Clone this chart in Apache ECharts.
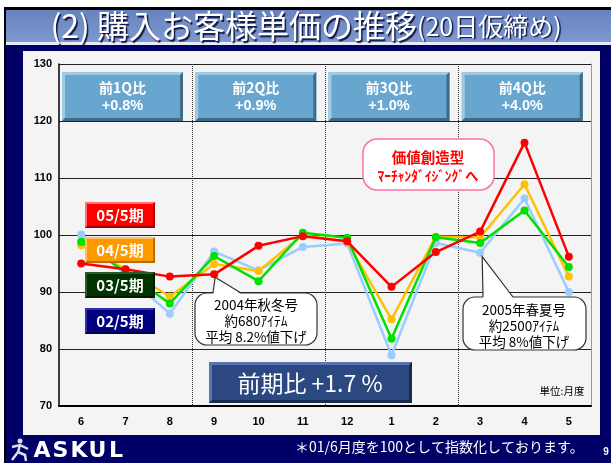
<!DOCTYPE html>
<html><head><meta charset="utf-8">
<script src="https://cdn.jsdelivr.net/npm/echarts@6/dist/echarts.min.js"></script>
<style>html,body{margin:0;padding:0;background:#fff;}#c{width:611px;height:463px;}</style>
</head><body><div id="c"></div>
<script>
// ---- data ----
const months = ['6','7','8','9','10','11','12','1','2','3','4','5'];
const s05 = [95.0, 94.0, 92.7, 93.1, 98.1, 99.8, 98.9, 90.9, 97.0, 100.6, 116.2, 96.2];
const s04 = [98.2, 94.0, 89.2, 94.9, 93.7, 100.0, 98.8, 85.2, 99.7, 99.6, 108.9, 92.7];
const s03 = [98.8, 93.5, 88.0, 96.3, 91.9, 100.4, 99.5, 81.8, 99.6, 98.6, 104.3, 94.4];
const s02 = [100.1, 93.0, 86.2, 97.1, 93.8, 97.9, 98.5, 78.9, 98.6, 96.9, 106.4, 90.0];
const seriesNames = ['05/5期','04/5期','03/5期','02/5期'];
const quarterLabels = ['前1Q比','前2Q比','前3Q比','前4Q比'];
const quarterValues = ['+0.8%','+0.9%','+1.0%','+4.0%'];
const yTicks = {min:70, max:130, interval:10};

const chart = echarts.init(document.getElementById('c'));
const JP = '"Noto Sans CJK JP", "Noto Sans", sans-serif';
const AR = '"Liberation Sans", Arial, sans-serif';

function lineSeries(name, data, color, z){
  return {name, type:'line', data, z, symbol:'circle', symbolSize:8, showSymbol:true,
    lineStyle:{color, width:2.5}, itemStyle:{color}, emphasis:{disabled:true}};
}

const option = {
  animation:false,
  grid:{left:59, right:20, top:64, bottom:57},
  xAxis:{type:'category', data:months, boundaryGap:true,
    axisLine:{lineStyle:{color:'#000', width:2}},
    axisTick:{inside:true, length:4, lineStyle:{color:'#000'}},
    axisLabel:{margin:10, color:'#000', fontWeight:'bold', fontSize:11, fontFamily:AR},
    splitLine:{show:true, interval:function(i){return i===3||i===6||i===9;}, lineStyle:{type:'dotted', color:'#333', width:1}}
  },
  yAxis:[{type:'value', min:yTicks.min, max:yTicks.max, interval:yTicks.interval,
    axisLine:{show:true, lineStyle:{color:'#000', width:1.5}},
    axisTick:{show:false},
    axisLabel:{margin:7, color:'#000', fontWeight:'bold', fontSize:11, fontFamily:AR},
    splitLine:{lineStyle:{color:'#222', width:1}}
  },{type:'value', position:'right', min:yTicks.min, max:yTicks.max, interval:yTicks.interval,
    axisLine:{show:true, lineStyle:{color:'#999', width:1}}, axisTick:{show:false}, axisLabel:{show:false}, splitLine:{show:false}}],
  series:[
    lineSeries(seriesNames[3], s02, '#99ccff', 3),
    lineSeries(seriesNames[1], s04, '#ffc000', 4),
    lineSeries(seriesNames[2], s03, '#00e000', 5),
    lineSeries(seriesNames[0], s05, '#ff0000', 6)
  ]
};
chart.setOption(option);

function bevel(x,y,w,h,fill,light,dark,b,z){
  return [
    {type:'rect', z, shape:{x,y,width:w,height:h}, style:{fill}},
    {type:'polygon', z, shape:{points:[[x,y],[x+w,y],[x+w-b,y+b],[x+b,y+b],[x+b,y+h-b],[x,y+h]]}, style:{fill:light}},
    {type:'polygon', z, shape:{points:[[x+w,y],[x+w,y+h],[x,y+h],[x+b,y+h-b],[x+w-b,y+h-b],[x+w-b,y+b]]}, style:{fill:dark}}
  ];
}
function txt(x,y,text,size,color,weight,family,z,align,extra){
  return {type:'text', z, x, y, style:Object.assign({text, fontSize:size, fill:color, fontWeight:weight||'normal', fontFamily:family||JP, align:align||'center', verticalAlign:'middle'}, extra||{})};
}
function callout(x0,y0,x1,y1,r,bx0,bx1,tx,ty,stroke,z,lw){
  const out = [{type:'rect', z, shape:{x:x0,y:y0,width:x1-x0,height:y1-y0,r}, style:{fill:'#fff', stroke, lineWidth:lw||1.2}}];
  if(tx!==null){
    out.push({type:'polygon', z:z+0.1, shape:{points:[[bx0,y0+1],[tx,ty],[bx1,y0+1]]}, style:{fill:'#fff'}});
    out.push({type:'polyline', z:z+0.2, shape:{points:[[bx0,y0],[tx,ty],[bx1,y0]]}, style:{stroke, lineWidth:lw||1.2, fill:null}});
  }
  return out;
}

const g = [];
// backgrounds
g.push({type:'rect', z:-100, shape:{x:0,y:0,width:611,height:463}, style:{fill:'#fff'}});
g.push({type:'rect', z:-99, shape:{x:5,y:44,width:606,height:419}, style:{fill:'#000066'}});
g.push({type:'rect', z:-99, shape:{x:4,y:7,width:607,height:3}, style:{fill:'#000'}});
g.push({type:'rect', z:-99, shape:{x:4,y:7,width:2,height:456}, style:{fill:'#000'}});
g.push({type:'rect', z:-99, shape:{x:6,y:10,width:605,height:32}, style:{fill:new echarts.graphic.LinearGradient(0,0,0,1,[{offset:0,color:'#6784c0'},{offset:1,color:'#7e98cf'}])}});
g.push({type:'rect', z:-99, shape:{x:6,y:42,width:605,height:3}, style:{fill:'#e8ecf8'}});
g.push({type:'rect', z:-98, shape:{x:23,y:51,width:577,height:384}, style:{fill:'#f4f4f4'}});
// title
const sh = {textShadowColor:'rgba(0,0,40,0.85)', textShadowOffsetX:1.5, textShadowOffsetY:1.5, textShadowBlur:1};
g.push({type:'text', z:50, x:306, y:26, style:Object.assign({
  text:'{a|(2) 購入お客様単価の推移}{b|(20日仮締め)}', align:'center', verticalAlign:'middle', fill:'#fff',
  rich:{a:Object.assign({fontSize:32, fontFamily:JP, fill:'#fff'}, sh),
        b:Object.assign({fontSize:25, fontFamily:JP, fill:'#fff'}, sh)}
}, sh)});
// quarter boxes
for(let k=0;k<4;k++){
  const x = 62 + 133.25*k, y=72, w=121, h=49;
  bevel(x,y,w,h,'#68a6cf','#9dcbe6','#3f6a88',3,40).forEach(e=>g.push(e));
  g.push(txt(x+w/2, y+16, quarterLabels[k], 14, '#fff', 'bold', JP, 41));
  g.push(txt(x+w/2, y+34, quarterValues[k], 14.5, '#fff', 'bold', AR, 41));
}
// legend boxes
const legCols = [['#ff0000','#ff7070','#b00000'],['#ff9900','#ffc060','#b86e00'],['#003300','#2a5a2a','#001800'],['#000080','#3030a8','#000048']];
const legY = [202,237,272,308];
for(let k=0;k<4;k++){
  bevel(85,legY[k],70,26,legCols[k][0],legCols[k][1],legCols[k][2],2,40).forEach(e=>g.push(e));
  g.push(txt(120, legY[k]+13, seriesNames[k], 15, '#fff', 'bold', JP, 41));
}
// callouts
const p1 = chart.convertToPixel({xAxisIndex:0, yAxisIndex:0}, [3, s05[3]]);
const p2 = chart.convertToPixel({xAxisIndex:0, yAxisIndex:0}, [9, s02[9]]);
callout(195,293,317,345,12,213,241,p1[0]+1,p1[1]+3,'#333',45).forEach(e=>g.push(e));
g.push(txt(256,305,'2004年秋冬号',13.5,'#000','normal',JP,46));
g.push(txt(256,321,'約680ｱｲﾃﾑ',13.5,'#000','normal',JP,46));
g.push(txt(256,337,'平均 8.2%値下げ',13.5,'#000','normal',JP,46));
callout(463,297,586,350,12,483,513,p2[0]+2,p2[1]+4,'#333',45).forEach(e=>g.push(e));
g.push(txt(524,310,'2005年春夏号',13.5,'#000','normal',JP,46));
g.push(txt(524,326,'約2500ｱｲﾃﾑ',13.5,'#000','normal',JP,46));
g.push(txt(524,342,'平均 8%値下げ',13.5,'#000','normal',JP,46));
// pink box
callout(363,139,494,190,14,0,0,null,null,'#ff6f9f',45,1.5).forEach(e=>g.push(e));
g.push(txt(428,157,'価値創造型',14.5,'#ff0000','bold',JP,46));
g.push(txt(428,176,'ﾏｰﾁｬﾝﾀﾞｲｼﾞﾝｸﾞへ',13.5,'#ff0000','bold',JP,46));
// 前期比 box
bevel(209,362,203,41,'#2c4880','#5a78b0','#172a50',3,45).forEach(e=>g.push(e));
g.push(txt(310,383,'前期比 +1.7 %',23,'#fff','normal',JP,46));
// unit
g.push(txt(562,391,'単位:月度',10.5,'#000','normal',JP,46));
// bottom logo
const letters = ['A','S','K','U','L'];
letters.forEach((L,i)=>g.push(txt(42+i*18.5,451,L,22,'#fff','bold','"DejaVu Sans", sans-serif',50)));
g.push({type:'circle', z:50, shape:{cx:20,cy:441,r:2.5}, style:{fill:'#dde'}});
g.push({type:'polyline', z:50, shape:{points:[[12,447],[20,445],[28,449]]}, style:{stroke:'#dde',lineWidth:2.5,fill:null}});
g.push({type:'polyline', z:50, shape:{points:[[20,445],[18,452],[12,460]]}, style:{stroke:'#dde',lineWidth:2.5,fill:null}});
g.push({type:'polyline', z:50, shape:{points:[[18,452],[25,455],[26,461]]}, style:{stroke:'#dde',lineWidth:2.5,fill:null}});
g.push(txt(295,447,'＊01/6月度を100として指数化しております。',14,'#fff','normal',JP,50,'left'));
g.push(txt(606,452,'9',10,'#fff','bold',AR,50));

chart.setOption({graphic:{elements:g}});
</script></body></html>
